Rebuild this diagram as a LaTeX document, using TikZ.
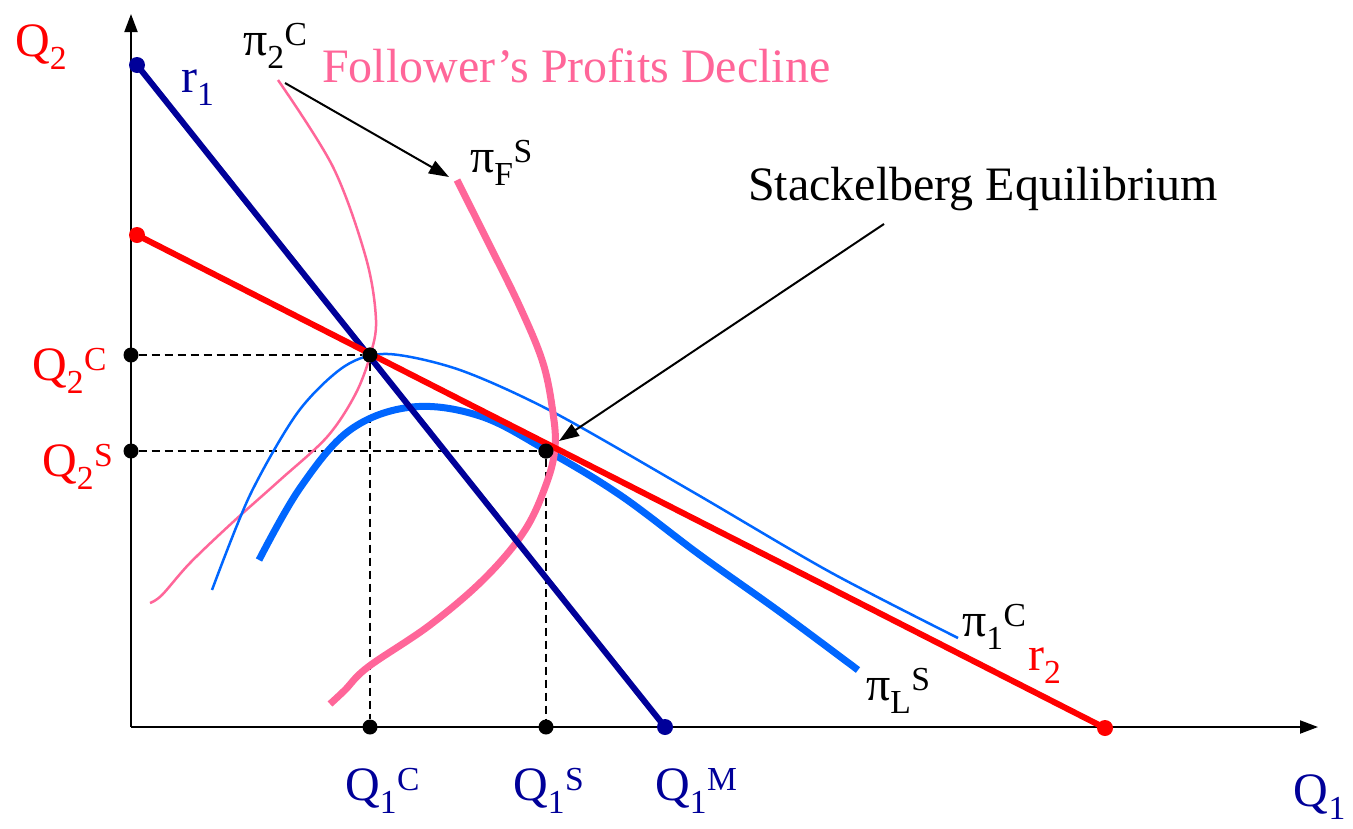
\documentclass[tikz,border=0pt]{standalone}
\usepackage{fontspec}
\setmainfont{Liberation Serif}
\usetikzlibrary{arrows.meta}
\definecolor{navyc}{RGB}{0,0,153}
\definecolor{pinkc}{RGB}{255,102,153}
\definecolor{bluec}{RGB}{0,102,255}
\definecolor{redc}{RGB}{255,0,0}
\begin{document}
\begin{tikzpicture}[x=1pt,y=-1pt,
  lbl/.style={anchor=base west,inner sep=0pt,font=\fontsize{48}{52}\selectfont},
  dotk/.style={circle,fill=black,inner sep=0pt,minimum size=15pt},
  dotn/.style={circle,fill=navyc,inner sep=0pt,minimum size=16pt},
  dotr/.style={circle,fill=redc,inner sep=0pt,minimum size=16pt},
  axis/.style={line width=2pt,-{Triangle[length=18pt,width=13pt]}},
  guide/.style={black,line width=1.6pt,dash pattern=on 8pt off 5pt},
  pointer/.style={black,line width=2pt,-{Triangle[length=20pt,width=14pt]}},
  thinc/.style={line width=2.5pt},
  thickc/.style={line width=7pt}]
\useasboundingbox (0,0) rectangle (1353,828);
% axes
\coordinate (O) at (131,727);
\coordinate (ytop) at (131,14);
\coordinate (xend) at (1318,727);
\draw[axis] (O) -- (ytop);
\draw[axis] (O) -- (xend);
% points
\node[dotk] (c) at (370,355) {};
\node[dotk] (s) at (546,451) {};
\node[dotk] (q2c) at (131,355) {};
\node[dotk] (q2s) at (131,451) {};
\node[dotk] (q1c) at (370,727) {};
\node[dotk] (q1s) at (546,727) {};
\draw[guide] (q2c) -- (c) -- (q1c);
\draw[guide] (q2s) -- (s) -- (q1s);
% curves
\draw[pinkc,thinc] plot[smooth,tension=0.55] coordinates {(278,80) (333,167) (366,258) (376,320) (370,356) (355,395) (327,437) (280,480) (233,522) (190,563) (162,595) (150,603)};
\draw[bluec,thinc] plot[smooth,tension=0.5] coordinates {(212,590) (250,495) (298,412) (345,366) (388,354) (460,370) (553,412) (693,492) (830,572) (958,638)};
\draw[bluec,thickc] plot[smooth,tension=0.6] coordinates {(259,560) (300,488) (350,430) (412,407) (480,416) (546,450) (620,495) (700,555) (780,612) (858,670)};
\draw[pinkc,thickc] plot[smooth,tension=0.6] coordinates {(457,180) (487,240) (520,307) (543,363) (553,413) (555,447) (547,482) (525,530) (485,578) (430,625) (368,667) (345,690) (330,704)};
% reaction functions
\node[dotn] (r1a) at (137,65) {};
\node[dotn] (r1b) at (665,727) {};
\node[dotr] (r2a) at (137,235) {};
\node[dotr] (r2b) at (1105,728) {};
\draw[navyc,line width=6pt] (r1a.center) -- (r1b.center);
\draw[redc,line width=6pt] (r2a.center) -- (r2b.center);
\node[dotk] at (c) {};
\node[dotk] at (s) {};
% labels
\node[lbl,redc] (lq2) at (15,56) {Q\textsubscript{2}};
\node[lbl,navyc] (lr1) at (181,92) {r\textsubscript{1}};
\node[lbl] (lpi2c) at (243,55) {π\textsubscript{2}\textsuperscript{C}};
\node[lbl,pinkc] (lfol) at (322,82) {Follower’s Profits Decline};
\node[lbl] (lpifs) at (470,172) {π\textsubscript{F}\textsuperscript{S}};
\node[lbl] (lstack) at (748,200) {Stackelberg Equilibrium};
\node[lbl,redc] (lq2c) at (32,380) {Q\textsubscript{2}\textsuperscript{C}};
\node[lbl,redc] (lq2s) at (42,476) {Q\textsubscript{2}\textsuperscript{S}};
\node[lbl,navyc] (lq1c) at (345,800) {Q\textsubscript{1}\textsuperscript{C}};
\node[lbl,navyc] (lq1s) at (513,800) {Q\textsubscript{1}\textsuperscript{S}};
\node[lbl,navyc] (lq1m) at (655,800) {Q\textsubscript{1}\textsuperscript{M}};
\node[lbl,navyc,anchor=base east] (lq1) at (1346,806) {Q\textsubscript{1}};
\node[lbl] (lpi1c) at (962,636) {π\textsubscript{1}\textsuperscript{C}};
\node[lbl,redc] (lr2) at (1028,670) {r\textsubscript{2}};
\node[lbl] (lpils) at (866,700) {π\textsubscript{L}\textsuperscript{S}};
% pointers
\coordinate (p1) at (285,83);
\coordinate (p1t) at (449,177);
\draw[pointer] (p1) -- (p1t);
\coordinate (p2) at (884,224);
\coordinate (p2t) at (559,441);
\draw[pointer] (p2) -- (p2t);
\end{tikzpicture}
\end{document}
